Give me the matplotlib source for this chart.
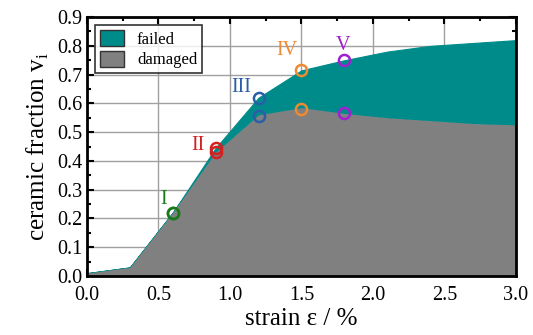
import matplotlib
matplotlib.use("Agg")
import matplotlib.pyplot as plt
from matplotlib.ticker import MultipleLocator
import numpy as np

plt.rcParams['font.family'] = ['Liberation Serif', 'DejaVu Serif']
plt.rcParams['mathtext.fontset'] = 'custom'
plt.rcParams['mathtext.rm'] = 'Liberation Serif'

# data
strain = [0.0, 0.3, 0.6, 0.9, 1.2, 1.5, 1.8, 2.1, 2.4, 2.7, 3.0]
damaged = [0.01, 0.03, 0.22, 0.43, 0.56, 0.585, 0.565, 0.55, 0.54, 0.53, 0.525]
total = [0.01, 0.03, 0.22, 0.445, 0.62, 0.715, 0.75, 0.78, 0.80, 0.81, 0.82]

stage_names = ['I', 'II', 'III', 'IV', 'V']
stage_strain = [0.6, 0.9, 1.2, 1.5, 1.8]
stage_total = [0.22, 0.445, 0.62, 0.715, 0.75]
stage_damaged = [0.22, 0.43, 0.555, 0.58, 0.565]
stage_colors = ['#1a7a1a', '#d42020', '#2a5ea8', '#f08a30', '#a020d0']
label_pos = [(0.54, 0.265), (0.78, 0.455), (1.08, 0.655), (1.40, 0.785), (1.79, 0.80)]

fig = plt.figure(figsize=(5.33, 3.35), dpi=100)
ax = fig.add_axes([0.163, 0.176, 0.805, 0.773])

ax.fill_between(strain, damaged, total, color='#008b8b', lw=0.8, label='failed', zorder=2)
ax.fill_between(strain, 0, damaged, color='#808080', lw=0, label='damaged', zorder=2)

for i in range(len(stage_names)):
    ax.plot([stage_strain[i]] * 2, [stage_total[i], stage_damaged[i]], 'o', ms=8,
            mfc='none', mec=stage_colors[i], mew=1.8, zorder=4)
    ax.text(label_pos[i][0], label_pos[i][1], stage_names[i], color=stage_colors[i],
            fontsize=14.5, ha='center', va='center', zorder=5)

ax.set_xlim(0, 3.0)
ax.set_ylim(0, 0.9)
ax.xaxis.set_major_locator(MultipleLocator(0.5))
ax.xaxis.set_minor_locator(MultipleLocator(0.25))
ax.yaxis.set_major_locator(MultipleLocator(0.1))
ax.yaxis.set_minor_locator(MultipleLocator(0.05))
ax.set_xticklabels([f'{v:.1f}' for v in ax.get_xticks()])
ax.set_yticklabels([f'{v:.1f}' for v in ax.get_yticks()])
ax.grid(True, color='#a0a0a0', lw=1, zorder=1)
ax.set_axisbelow(True)
ax.tick_params(which='both', direction='in', top=True, right=True, labelsize=14.5, width=1.5)
ax.tick_params(which='major', length=5)
ax.tick_params(which='minor', length=3)
ax.tick_params(axis='x', pad=7)
for s in ax.spines.values():
    s.set_linewidth(2)
    s.set_zorder(6)

ax.set_xlabel('strain ε / %', fontsize=18, labelpad=2)
ax.set_ylabel('ceramic fraction v$_\\mathrm{i}$', fontsize=18)

leg = ax.legend(loc='upper left', fontsize=12, frameon=True, fancybox=False,
                edgecolor='black', handlelength=1.4, handleheight=1.1,
                borderaxespad=0.5, labelspacing=0.15, borderpad=0.3)
leg.get_frame().set_linewidth(1.2)
for h in leg.legend_handles:
    h.set_edgecolor('#333333')
    h.set_linewidth(1)

fig.savefig('out.png', dpi=100)
